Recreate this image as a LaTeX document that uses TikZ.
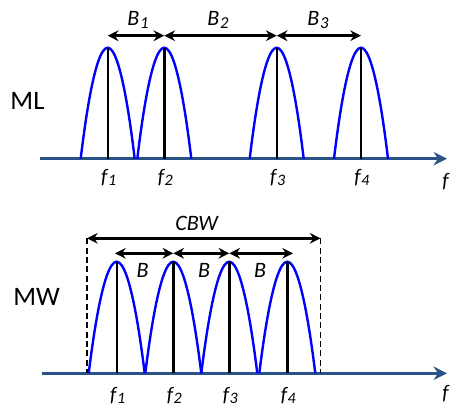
\documentclass[tikz,border=0pt]{standalone}
\usepackage{fontspec}
\setmainfont{Carlito}
\usetikzlibrary{arrows.meta}
\definecolor{axisblue}{RGB}{41,82,135}
\definecolor{peakblue}{RGB}{0,0,255}
\tikzset{
  axisline/.style={draw=axisblue,line width=2.6pt,-{Stealth[length=10pt,width=10pt]}},
  peak/.style={draw=peakblue,line width=1.8pt},
  stem/.style={draw=black,line width=1.8pt},
  bandarrow/.style={draw=black,line width=2.1pt,{Stealth[length=8pt,width=8pt]}-{Stealth[length=8pt,width=8pt]}},
  guide/.style={draw=black,line width=1.3pt,dash pattern=on 4.5pt off 2.5pt},
  flabel/.style={font=\fontsize{15.5}{17}\selectfont\itshape,inner sep=0pt},
  blabel/.style={font=\fontsize{16.5}{18}\selectfont\itshape,inner sep=0pt},
  sidelabel/.style={font=\fontsize{20}{22}\selectfont,inner sep=0pt}
}
\newcommand{\fsub}[1]{f\kern0.5pt\raisebox{-0.2ex}{\fontsize{12}{13}\selectfont #1}}
\newcommand{\bsub}[1]{B\kern0.5pt\raisebox{-0.2ex}{\fontsize{12.5}{13}\selectfont #1}}
\begin{document}
\begin{tikzpicture}[x=0.75pt,y=-0.75pt]
\useasboundingbox (0,0) rectangle (451,409);
% ---------- ML panel ----------
\coordinate (a0) at (40,158.7);
\coordinate (a1) at (447,158.7);
\draw[axisline] (a0) -- (a1);
\foreach \x [count=\i] in {107.7,164.3,276.7,361} {
  \coordinate (mlb\i) at (\x,158.7);
  \coordinate (mlt\i) at (\x,47.7);
  \coordinate (mla\i) at (\x,35.7);
  \draw[peak] (\x-27,158.7) parabola bend (mlt\i) (\x+27,158.7);
  \draw[stem] (mlb\i) -- (mlt\i);
  \node[flabel] (mlf\i) at (\x+1,177.5) {\fsub{\i}};
}
\draw[bandarrow] (mla1) -- (mla2);
\draw[bandarrow] (mla2) -- (mla3);
\draw[bandarrow] (mla3) -- (mla4);
\node[blabel] (b1) at (138,20) {\bsub{1}};
\node[blabel] (b2) at (218,20) {\bsub{2}};
\node[blabel] (b3) at (318,20) {\bsub{3}};
\node[sidelabel] (ml) at (27.5,100.5) {ML};
\node[flabel,anchor=west] (fa) at (442,181.7) {f};
% ---------- MW panel ----------
\coordinate (c0) at (41.7,373.3);
\coordinate (c1) at (447,373.3);
\draw[axisline] (c0) -- (c1);
\foreach \x [count=\i] in {116.7,173.3,229.3,287.3} {
  \coordinate (mwb\i) at (\x,373.3);
  \coordinate (mwt\i) at (\x,261.7);
  \draw[peak] (\x-28,373.3) parabola bend (mwt\i) (\x+28,373.3);
  \draw[stem] (mwb\i) -- (mwt\i);
  \node[flabel] (mwf\i) at (\x+1,396) {\fsub{\i}};
}
\coordinate (mwa1) at (115,253.3);
\coordinate (mwa2) at (173.3,253.3);
\coordinate (mwa3) at (229.3,253.3);
\coordinate (mwa4) at (293,253.3);
\draw[bandarrow] (mwa1) -- (mwa2);
\draw[bandarrow] (mwa2) -- (mwa3);
\draw[bandarrow] (mwa3) -- (mwa4);
\node[blabel] (bb1) at (142.7,270) {B};
\node[blabel] (bb2) at (204,270) {B};
\node[blabel] (bb3) at (260,270) {B};
\coordinate (cl) at (87,238.3);
\coordinate (cr) at (320.5,238.3);
\coordinate (clb) at (87,373.3);
\coordinate (crb) at (320.5,373.3);
\draw[guide] (cl) -- (clb);
\draw[guide] (cr) -- (crb);
\draw[bandarrow] (cl) -- (cr);
\node[blabel] (cbw) at (196.7,223.5) {CBW};
\node[sidelabel] (mw) at (36.7,296.7) {MW};
\node[flabel,anchor=west] (fb) at (442,393.3) {f};
\end{tikzpicture}
\end{document}
